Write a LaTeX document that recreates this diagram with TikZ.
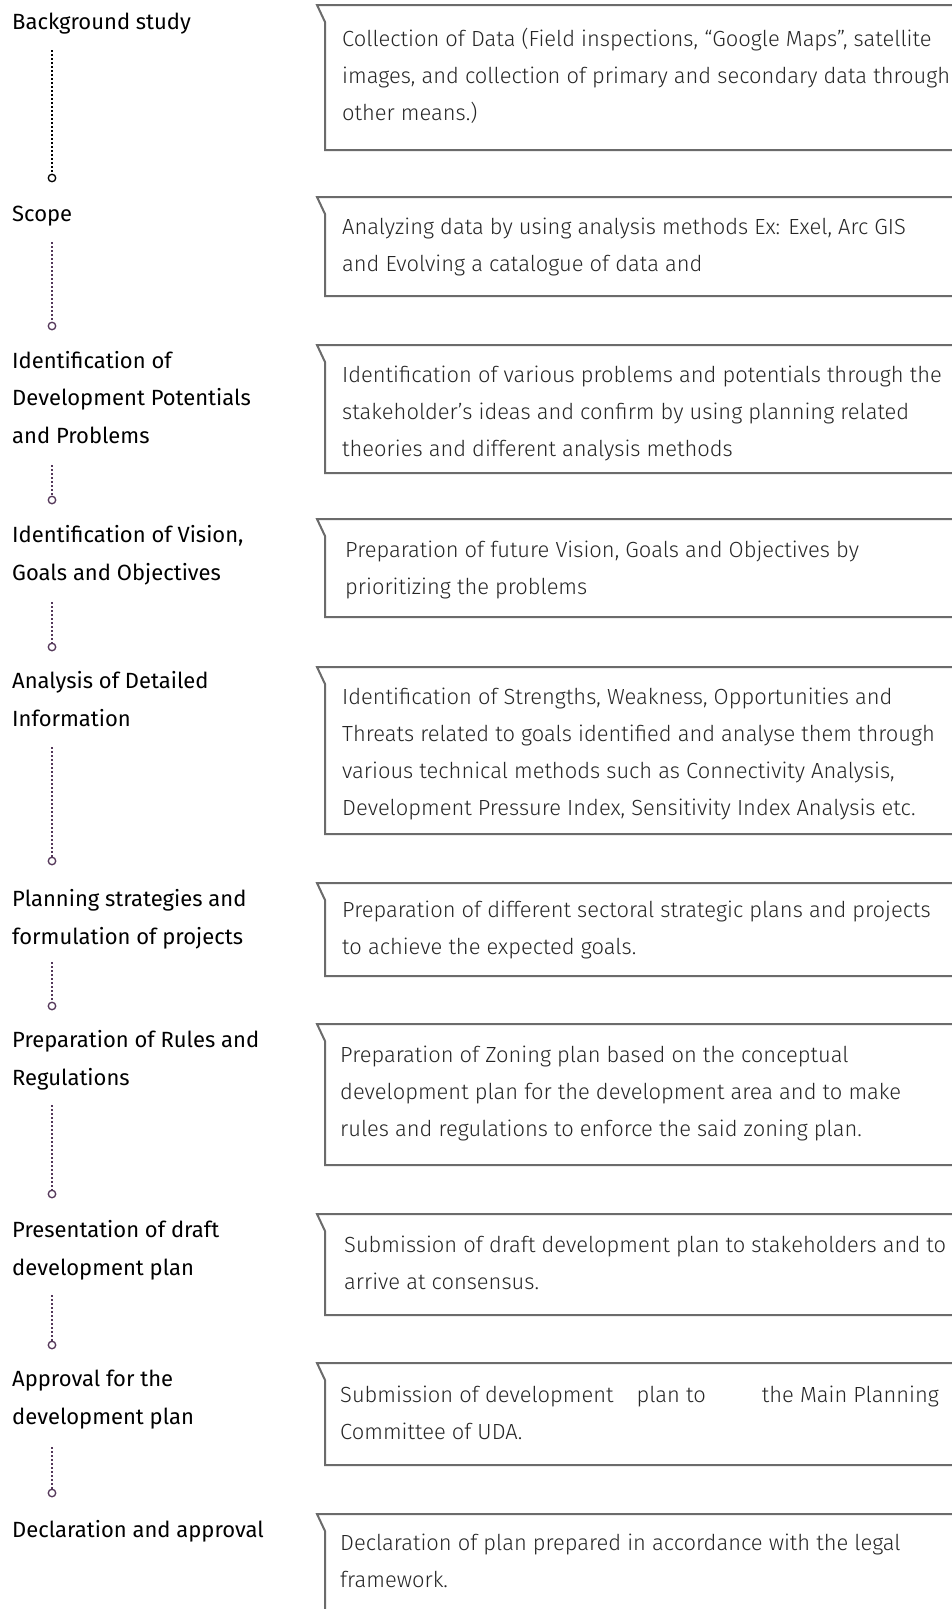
\documentclass[tikz,border=0pt]{standalone}
\usepackage{fontspec}
\setmainfont{Fira Sans}
\IfFontExistsTF{Fira Sans Light}{\newfontfamily\boxfont{Fira Sans Light}}{\newfontfamily\boxfont{Fira Sans}}
\definecolor{boxgray}{HTML}{6B6B6B}
\definecolor{plum}{HTML}{533759}
\definecolor{txt}{HTML}{262626}
\begin{document}
\begin{tikzpicture}[x=1pt,y=-1pt,
  lbl/.style={anchor=base west, align=left, inner sep=0pt, font=\fontsize{22}{37.5}\selectfont, text=black},
  desc/.style={anchor=base west, align=left, inner sep=0pt, font=\boxfont\fontsize{21.9}{37}\selectfont, text=txt},
  pin/.style={circle, draw=plum, line width=1.3pt, minimum size=7.5pt, inner sep=0pt, fill=white},
  dotline/.style={draw=plum, line width=1.5pt, dash pattern=on 1.5pt off 2.5pt},
  framebox/.style={draw=boxgray, line width=2pt}]
\useasboundingbox[fill=white] (0,0) rectangle (952,1609);

% left labels (anchored at the baseline of their last line)
\node[lbl] (L1) at (12,29) {Background study};
\node[lbl] (L2) at (12,221) {Scope};
\node[lbl] (L3) at (12,443) {Identification of\\Development Potentials\\and Problems};
\node[lbl] (L4) at (12,580) {Identification of Vision,\\Goals and Objectives};
\node[lbl] (L5) at (12,726) {Analysis of Detailed\\Information};
\node[lbl] (L6) at (12,944) {Planning strategies and\\formulation of projects};
\node[lbl] (L7) at (12,1085) {Preparation of Rules and\\Regulations};
\node[lbl] (L8) at (12,1275) {Presentation of draft\\development plan};
\node[lbl] (L9) at (12,1424) {Approval for the\\development plan};
\node[lbl] (L10) at (12,1537) {Declaration and approval};

% circles
\node[pin, draw=black] (C1) at (52,178) {};
\node[pin] (C2) at (52,326) {};
\node[pin] (C3) at (52,500) {};
\node[pin] (C4) at (52,647) {};
\node[pin] (C5) at (52,861) {};
\node[pin] (C6) at (52,1006) {};
\node[pin] (C7) at (52,1194) {};
\node[pin] (C8) at (52,1345) {};
\node[pin] (C9) at (52,1493) {};

% dotted start points
\coordinate (D1) at (52,50);
\coordinate (D2) at (52,242);
\coordinate (D3) at (52,465);
\coordinate (D4) at (52,602);
\coordinate (D5) at (52,747);
\coordinate (D6) at (52,962);
\coordinate (D7) at (52,1105);
\coordinate (D8) at (52,1295);
\coordinate (D9) at (52,1447);

\draw[dotline, draw=black] (D1) -- (C1.north);
\draw[dotline] (D2) -- (C2.north);
\draw[dotline] (D3) -- (C3.north);
\draw[dotline] (D4) -- (C4.north);
\draw[dotline] (D5) -- (C5.north);
\draw[dotline] (D6) -- (C6.north);
\draw[dotline] (D7) -- (C7.north);
\draw[dotline] (D8) -- (C8.north);
\draw[dotline] (D9) -- (C9.north);

% boxes
\draw[framebox] (960,5) -- (317,5) -- (325,22) -- (325,150) -- (960,150);
\draw[framebox] (960,197) -- (317,197) -- (325,214) -- (325,296) -- (960,296);
\draw[framebox] (960,345) -- (317,345) -- (325,362) -- (325,473) -- (960,473);
\draw[framebox] (960,519) -- (317,519) -- (325,536) -- (325,617) -- (960,617);
\draw[framebox] (960,667) -- (317,667) -- (325,684) -- (325,834) -- (960,834);
\draw[framebox] (960,883) -- (317,883) -- (325,900) -- (325,976) -- (960,976);
\draw[framebox] (960,1024) -- (317,1024) -- (325,1041) -- (325,1165) -- (960,1165);
\draw[framebox] (960,1214) -- (317,1214) -- (325,1231) -- (325,1315) -- (960,1315);
\draw[framebox] (960,1363) -- (317,1363) -- (325,1380) -- (325,1465) -- (960,1465);
\draw[framebox] (960,1514) -- (317,1514) -- (325,1531) -- (325,1620);

% box texts (anchored at the baseline of their last line)
\node[desc] (B1) at (342,120) {Collection of Data (Field inspections, “Google Maps”, satellite\\images, and collection of primary and secondary data through\\other means.)};
\node[desc] (B2) at (342,271) {Analyzing data by using analysis methods Ex: Exel, Arc GIS\\and Evolving a catalogue of data and};
\node[desc] (B3) at (342,456) {Identification of various problems and potentials through the\\stakeholder’s ideas and confirm by using planning related\\theories and different analysis methods};
\node[desc] (B4) at (345,594) {Preparation of future Vision, Goals and Objectives by\\prioritizing the problems};
\node[desc] (B5) at (342,815) {Identification of Strengths, Weakness, Opportunities and\\Threats related to goals identified and analyse them through\\various technical methods such as Connectivity Analysis,\\Development Pressure Index, Sensitivity Index Analysis etc.};
\node[desc] (B6) at (342,954) {Preparation of different sectoral strategic plans and projects\\to achieve the expected goals.};
\node[desc] (B7) at (340,1136) {Preparation of Zoning plan based on the conceptual\\development plan for the development area and to make\\rules and regulations to enforce the said zoning plan.};
\node[desc] (B8) at (344,1289) {Submission of draft development plan to stakeholders and to\\arrive at consensus.};
\node[desc] (B9) at (340,1439) {Submission of development\hspace{17pt} plan to\hspace{50pt} the Main Planning\\Committee of UDA.};
\node[desc] (B10) at (340,1587) {Declaration of plan prepared in accordance with the legal\\framework.};
\end{tikzpicture}
\end{document}
